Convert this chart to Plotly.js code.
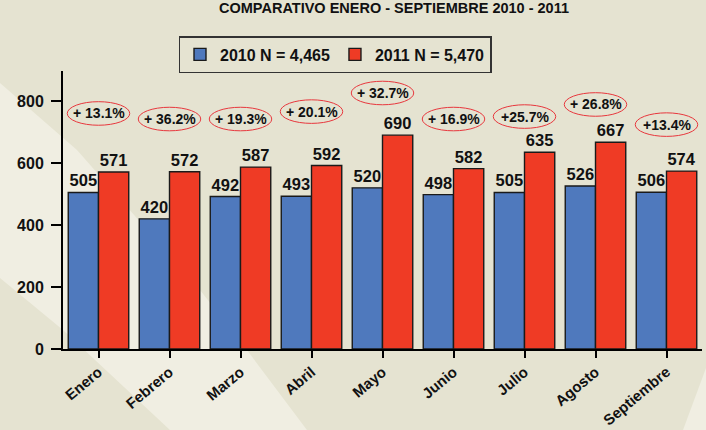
<!DOCTYPE html>
<html>
<head>
<meta charset="utf-8">
<script src="https://cdn.plot.ly/plotly-3.0.1.min.js"></script>
<style>
  html, body { margin: 0; padding: 0; background: #E5E3D1; }
  #chart { width: 706px; height: 430px; }
</style>
</head>
<body>
<div id="chart"></div>
<script>
// ---- data ----
const months = ['Enero', 'Febrero', 'Marzo', 'Abril', 'Mayo', 'Junio', 'Julio', 'Agosto', 'Septiembre'];
const values2010 = [505, 420, 492, 493, 520, 498, 505, 526, 506];
const values2011 = [571, 572, 587, 592, 690, 582, 635, 667, 574];
const seriesNames = ['2010 N = 4,465', '2011 N = 5,470'];
const changeLabels = ['+ 13.1%', '+ 36.2%', '+ 19.3%', '+ 20.1%', '+ 32.7%', '+ 16.9%', '+25.7%', '+ 26.8%', '+13.4%'];
const yTicks = [0, 200, 400, 600, 800];

// ---- layout helpers (placement of the change callouts, in axis units) ----
const calloutHeights = [760, 742, 742, 766, 826, 742, 750, 789, 724];

const W = 706, H = 430;
const M = { l: 63, r: 4, t: 71, b: 81 };
const PW = W - M.l - M.r, PH = H - M.t - M.b;
const FONT = 'Liberation Sans, Arial, sans-serif';
const BLUE = '#4F79BD', RED = '#EF3B25';

function px2paper(pts) {
  return pts.map((p, i) => (i === 0 ? 'M' : 'L') +
    ((p[0] - M.l) / PW).toFixed(4) + ',' + ((H - M.b - p[1]) / PH).toFixed(4)).join(' ') + ' Z';
}

const bgShapes = [
  { type: 'path', xref: 'paper', yref: 'paper', layer: 'below', line: { width: 0 }, fillcolor: '#F0EEE2',
    path: px2paper([[0, 83], [77, 150], [200, 290], [247, 350], [307, 430], [170, 430], [63, 330], [0, 278]]) },
  { type: 'path', xref: 'paper', yref: 'paper', layer: 'below', line: { width: 0 }, fillcolor: '#F0EEE2',
    path: px2paper([[683, 430], [706, 368], [706, 430]]) }
];

const ellipseHalfW = 0.44, ellipseHalfH = 38;
const ellipses = changeLabels.map((t, i) => ({
  type: 'circle', xref: 'x', yref: 'y',
  x0: i - ellipseHalfW, x1: i + ellipseHalfW,
  y0: calloutHeights[i] - ellipseHalfH, y1: calloutHeights[i] + ellipseHalfH,
  line: { color: '#E8373D', width: 1 }, fillcolor: 'rgba(0,0,0,0)'
}));

const callouts = changeLabels.map((t, i) => ({
  x: i, y: calloutHeights[i], xref: 'x', yref: 'y', text: t, showarrow: false,
  font: { family: FONT, size: 14, weight: 'bold', color: '#111' }
}));

const barCommon = {
  type: 'bar',
  x: months,
  texttemplate: '%{y}',
  textposition: 'outside',
  constraintext: 'none',
  cliponaxis: false,
  textfont: { family: FONT, size: 16.5, weight: 'bold', color: '#111' },
  hoverinfo: 'x+y+name'
};

const traces = [
  Object.assign({}, barCommon, { name: seriesNames[0], y: values2010,
    marker: { color: BLUE, line: { color: '#1a1a1a', width: 1.4 } } }),
  Object.assign({}, barCommon, { name: seriesNames[1], y: values2011,
    marker: { color: RED, line: { color: '#1a1a1a', width: 1.4 } } })
];

const layout = {
  width: W, height: H,
  margin: M,
  paper_bgcolor: '#E5E3D1',
  plot_bgcolor: 'rgba(0,0,0,0)',
  barmode: 'group',
  bargap: 0.148,
  bargroupgap: 0,
  font: { family: FONT, color: '#111' },
  title: {
    text: 'COMPARATIVO ENERO - SEPTIEMBRE 2010 - 2011',
    xref: 'container', yref: 'container',
    x: 394 / W, y: 1 - 7.5 / H, xanchor: 'center', yanchor: 'middle',
    font: { family: FONT, size: 14.5, weight: 'bold', color: '#111' }
  },
  showlegend: true,
  legend: {
    orientation: 'h',
    x: (335 - M.l) / PW, xanchor: 'center',
    y: (H - M.b - 36) / PH, yanchor: 'top',
    bgcolor: 'rgba(0,0,0,0)', bordercolor: '#333', borderwidth: 1.5,
    font: { family: FONT, size: 16, weight: 'bold', color: '#111' },
    traceorder: 'normal'
  },
  xaxis: {
    type: 'category',
    range: [-0.5, 8.5],
    tickangle: -40,
    tickfont: { family: FONT, size: 15, weight: 'bold', color: '#111' },
    ticks: 'outside', ticklen: 7, tickwidth: 2, tickcolor: '#000',
    showline: true, linecolor: '#000', linewidth: 1.5,
    showgrid: false, zeroline: false,
    automargin: false, fixedrange: true
  },
  yaxis: {
    range: [0, 897],
    tickvals: yTicks,
    tickfont: { family: FONT, size: 16, weight: 'bold', color: '#111' },
    ticks: 'outside', ticklen: 10, tickwidth: 1.5, tickcolor: '#000',
    ticklabelstandoff: 4,
    showline: true, linecolor: '#000', linewidth: 2,
    showgrid: false, zeroline: false,
    automargin: false, fixedrange: true
  },
  shapes: bgShapes.concat(ellipses),
  annotations: callouts
};

Plotly.newPlot('chart', traces, layout, { displayModeBar: false, staticPlot: true });
</script>
</body>
</html>
